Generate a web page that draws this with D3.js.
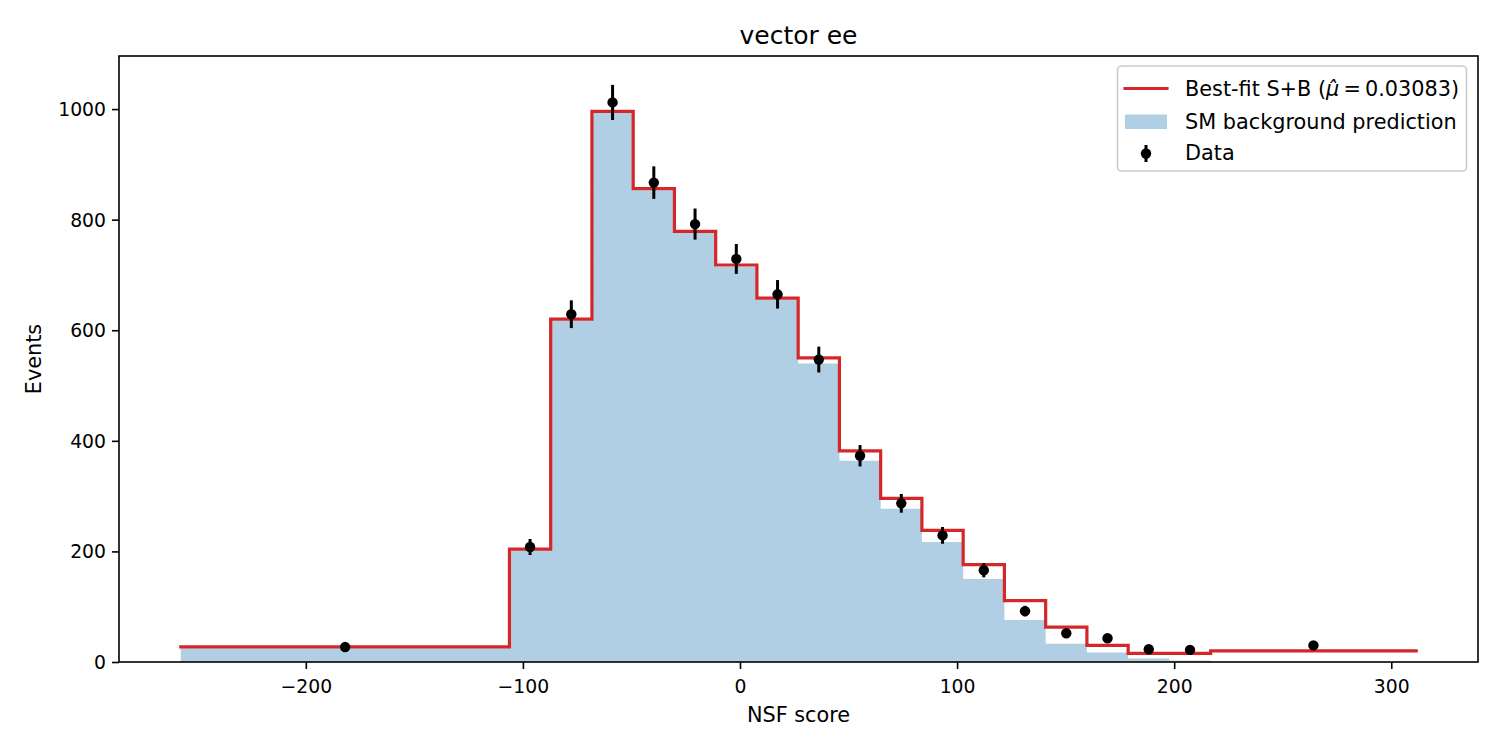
<!DOCTYPE html>
<html>
<head>
<meta charset="utf-8">
<script src="https://cdn.jsdelivr.net/npm/d3@7"></script>
<style>
  html, body { margin: 0; padding: 0; background: #fff; }
  svg { display: block; font-family: "DejaVu Sans", sans-serif; }
</style>
</head>
<body>
<svg id="chart" width="1500" height="750"></svg>
<script>
// ---- data ----
const binEdges = [-257.6, -106.2, -87.2, -68.2, -49.2, -30.2, -11.2, 7.8, 26.8, 45.8, 64.8, 83.8, 102.8, 121.8, 140.8, 159.8, 178.8, 197.8, 216.8, 311.5];
const backgroundPred = [25, 202, 617, 993, 853, 776, 715, 655, 540, 364, 277, 217, 150, 76, 33, 17, 6.5, 2.5, 0];
const bestFitSB = [27.5, 204, 620, 996, 856, 779, 718, 658, 550, 382, 296, 238, 176, 111, 63, 30, 15.5, 15.5, 20];
const observed = [27, 208, 629, 1012, 867, 792, 729, 665, 547, 373, 287, 229, 166, 92, 52, 43, 23, 22, 30];
const xTickValues = [-200, -100, 0, 100, 200, 300];
const yTickValues = [0, 200, 400, 600, 800, 1000];
const titleText = "vector ee";
const xLabelText = "NSF score";
const yLabelText = "Events";
const muHatText = "0.03083";

// ---- layout ----
const W = 1500, H = 750;
const plot = { left: 119, right: 1478, top: 56, bottom: 662 };
const RED = "#d62728";
const BLUE = "rgb(177,207,228)";

const svg = d3.select("#chart");

const xMin = binEdges[0], xMax = binEdges[binEdges.length - 1];
const xPad = (xMax - xMin) * 0.05;
const x = d3.scaleLinear().domain([xMin - xPad, xMax + xPad]).range([plot.left, plot.right]);
const y = d3.scaleLinear().domain([0, 1096]).range([plot.bottom, plot.top]);

// step points
function stepPoints(vals) {
  const pts = [];
  vals.forEach((v, i) => { pts.push([binEdges[i], v]); pts.push([binEdges[i + 1], v]); });
  return pts;
}

// background fill
const area = d3.area().x(d => x(d[0])).y0(y(0)).y1(d => y(d[1]));
svg.append("path")
  .attr("d", area(stepPoints(backgroundPred)))
  .attr("fill", BLUE)
  .attr("stroke", "none");

// best-fit S+B step line
const line = d3.line().x(d => x(d[0])).y(d => y(d[1]));
svg.append("path")
  .attr("d", line(stepPoints(bestFitSB)))
  .attr("fill", "none")
  .attr("stroke", RED)
  .attr("stroke-width", 3.2)
  .attr("stroke-linejoin", "miter")
  .attr("stroke-linecap", "square");

// data points with sqrt(N) error bars
const centers = observed.map((v, i) => (binEdges[i] + binEdges[i + 1]) / 2);
const dataG = svg.append("g");
observed.forEach((v, i) => {
  const e = Math.sqrt(v);
  dataG.append("line")
    .attr("x1", x(centers[i])).attr("x2", x(centers[i]))
    .attr("y1", y(v - e)).attr("y2", y(v + e))
    .attr("stroke", "#000").attr("stroke-width", 3);
  dataG.append("circle")
    .attr("cx", x(centers[i])).attr("cy", y(v))
    .attr("r", 5.2).attr("fill", "#000");
});

// axes
const xAxis = d3.axisBottom(x).tickValues(xTickValues).tickSize(7).tickPadding(6)
  .tickFormat(d => d < 0 ? "\u2212" + Math.abs(d) : String(d));
const gx = svg.append("g").attr("transform", `translate(0,${plot.bottom})`).call(xAxis);
const yAxis = d3.axisLeft(y).tickValues(yTickValues).tickSize(7).tickPadding(6).tickFormat(d => String(d));
const gy = svg.append("g").attr("transform", `translate(${plot.left},0)`).call(yAxis);
[gx, gy].forEach(g => {
  g.select(".domain").remove();
  g.selectAll(".tick line").attr("stroke", "#000").attr("stroke-width", 1.6);
  g.selectAll(".tick text").attr("fill", "#000").style("font-size", "18.8px").style("font-family", "DejaVu Sans");
});
gx.selectAll(".tick text").attr("dy", "0.95em");
gy.selectAll(".tick text").attr("dy", "0.34em");

// frame
svg.append("rect")
  .attr("x", plot.left).attr("y", plot.top)
  .attr("width", plot.right - plot.left).attr("height", plot.bottom - plot.top)
  .attr("fill", "none").attr("stroke", "#000").attr("stroke-width", 1.6);

// title & labels
svg.append("text").attr("x", (plot.left + plot.right) / 2).attr("y", 44)
  .attr("text-anchor", "middle").style("font-size", "25px").text(titleText);
svg.append("text").attr("x", (plot.left + plot.right) / 2).attr("y", 722)
  .attr("text-anchor", "middle").style("font-size", "20.8px").text(xLabelText);
svg.append("text").attr("transform", `translate(41,${(plot.top + plot.bottom) / 2}) rotate(-90)`)
  .attr("text-anchor", "middle").style("font-size", "20.8px").text(yLabelText);

// legend
const lg = svg.append("g");
lg.append("rect").attr("x", 1117.5).attr("y", 66).attr("width", 349).attr("height", 105)
  .attr("rx", 4).attr("fill", "#fff").attr("fill-opacity", 0.8)
  .attr("stroke", "#cccccc").attr("stroke-width", 1.6);
lg.append("line").attr("x1", 1125).attr("x2", 1167).attr("y1", 88.5).attr("y2", 88.5)
  .attr("stroke", RED).attr("stroke-width", 3.2).attr("stroke-linecap", "square");
lg.append("rect").attr("x", 1125).attr("y", 114.5).attr("width", 42).attr("height", 14.5).attr("fill", BLUE);
lg.append("line").attr("x1", 1146).attr("x2", 1146).attr("y1", 145).attr("y2", 162)
  .attr("stroke", "#000").attr("stroke-width", 3);
lg.append("circle").attr("cx", 1146).attr("cy", 153.5).attr("r", 5.2).attr("fill", "#000");

const t1 = lg.append("text").attr("x", 1185).attr("y", 95.5).style("font-size", "20.8px");
t1.append("tspan").text("Best-fit S+B (");
t1.append("tspan").style("font-style", "italic").text("\u03bc\u0302");
t1.append("tspan").text("\u2009=\u2009" + muHatText + ")");
lg.append("text").attr("x", 1185).attr("y", 129).style("font-size", "20.8px").text("SM background prediction");
lg.append("text").attr("x", 1185).attr("y", 159.5).style("font-size", "20.8px").text("Data");
</script>
</body>
</html>
